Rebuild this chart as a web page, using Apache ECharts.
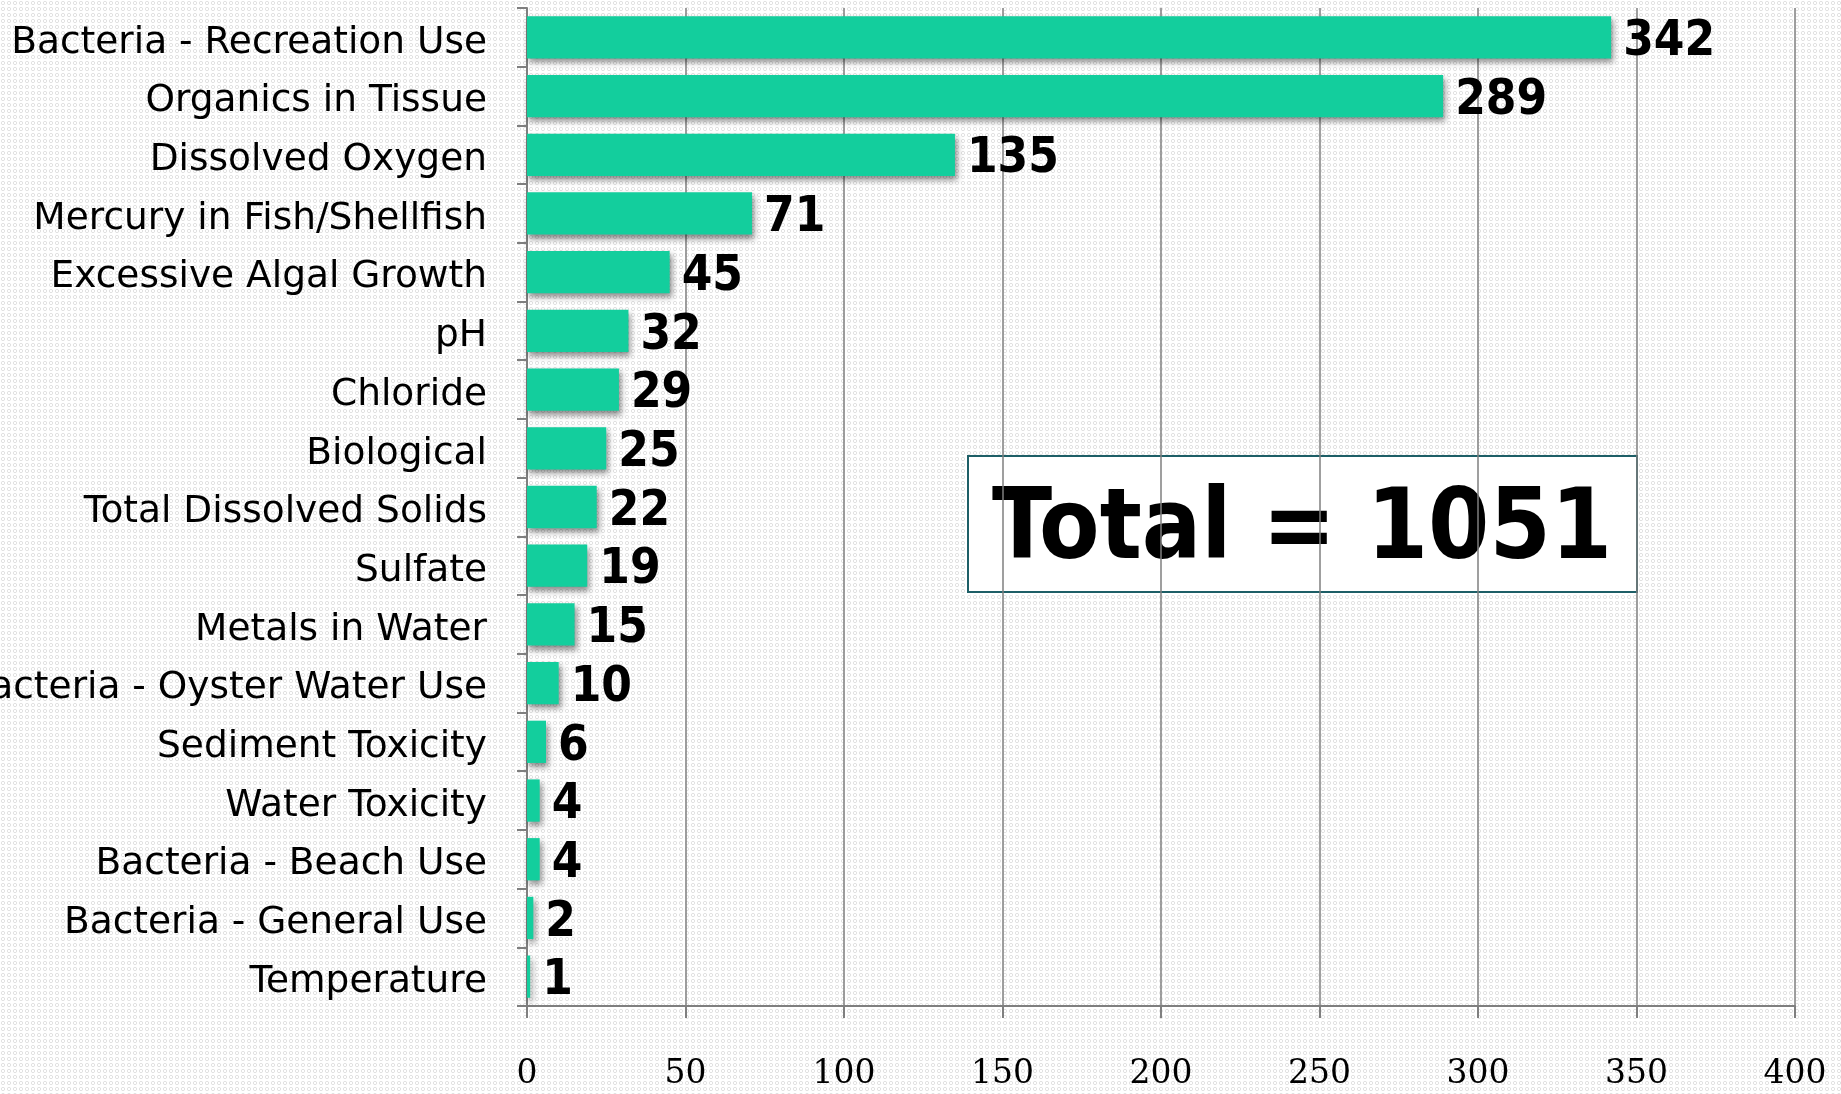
<!DOCTYPE html>
<html>
<head>
<meta charset="utf-8">
<script src="https://cdn.jsdelivr.net/npm/echarts@6/dist/echarts.min.js"></script>
<style>
html,body{margin:0;padding:0;width:1841px;height:1094px;overflow:hidden;background:#fff;}
#bg{position:absolute;left:0;top:0;width:1841px;height:1094px;
 background-image:radial-gradient(circle, rgba(255,255,255,0) 1.1px, rgba(200,200,200,0.55) 1.6px, rgba(255,255,255,0) 2.3px);
 background-size:6px 6px;}
#chart{position:absolute;left:0;top:0;width:1841px;height:1094px;}
</style>
</head>
<body>
<div id="bg"></div>
<div id="chart"></div>
<script>
const categories = [
  "Bacteria - Recreation Use","Organics in Tissue","Dissolved Oxygen","Mercury in Fish/Shellfish",
  "Excessive Algal Growth","pH","Chloride","Biological","Total Dissolved Solids","Sulfate",
  "Metals in Water","Bacteria - Oyster Water Use","Sediment Toxicity","Water Toxicity",
  "Bacteria - Beach Use","Bacteria - General Use","Temperature"
];
const values = [342,289,135,71,45,32,29,25,22,19,15,10,6,4,4,2,1];
const xTicks = [0,50,100,150,200,250,300,350,400];
const totalLabel = "Total = " + values.reduce((a,b)=>a+b,0);

const sansFont = "'DejaVu Sans',sans-serif";
const condFont = "'DejaVu Sans Condensed','DejaVu Sans',sans-serif";
const chart = echarts.init(document.getElementById('chart'), null, {renderer:'canvas'});
chart.setOption({
  backgroundColor: 'transparent',
  animation: false,
  grid: {left: 527, right: 46, top: 8, bottom: 88, containLabel: false, outerBoundsMode: 'none'},
  xAxis: {
    type: 'value', min: xTicks[0], max: xTicks[xTicks.length-1], interval: 50,
    axisLine: {show: true, lineStyle: {color: '#7f7f7f', width: 2}},
    axisTick: {show: true, length: 12, lineStyle: {color: '#7f7f7f', width: 2}},
    splitLine: {show: true, lineStyle: {color: '#7f7f7f', width: 1.5}},
    axisLabel: {color: '#000', fontFamily: "'DejaVu Serif','Liberation Serif',serif", fontSize: 33, margin: 52}
  },
  yAxis: {
    type: 'category', data: categories, inverse: true,
    axisLine: {show: true, lineStyle: {color: '#7f7f7f', width: 2}},
    axisTick: {show: true, length: 10, lineStyle: {color: '#7f7f7f', width: 2}},
    axisLabel: {color: '#000', fontFamily: sansFont, fontSize: 37.5, margin: 40,
      formatter: v => '{c|' + v + '}',
      rich: {c: {color: '#000', fontFamily: sansFont, fontSize: 37.5, padding: [11,0,0,0]}}}
  },
  series: [{
    type: 'bar', data: values, barCategoryGap: '28%',
    itemStyle: {color: '#13CE9D', shadowColor: 'rgba(0,0,0,0.45)', shadowBlur: 6, shadowOffsetX: 2, shadowOffsetY: 4},
    label: {show: true, position: 'right', distance: 12, color: '#000', fontWeight: 'bold',
      fontFamily: condFont, fontSize: 49, offset: [0, 5]}
  }],
  graphic: [{
    type: 'group', left: 967, top: 455,
    children: [
      {type: 'rect', shape: {x: 0, y: 0, width: 669, height: 136},
       style: {fill: '#fff', stroke: '#1d5e66', lineWidth: 2}},
      {type: 'text', x: 334, y: 77,
       style: {text: totalLabel, fill: '#000', font: "bold 98px " + condFont, textAlign: 'center', textVerticalAlign: 'middle'}}
    ]
  }]
});
</script>
</body>
</html>
